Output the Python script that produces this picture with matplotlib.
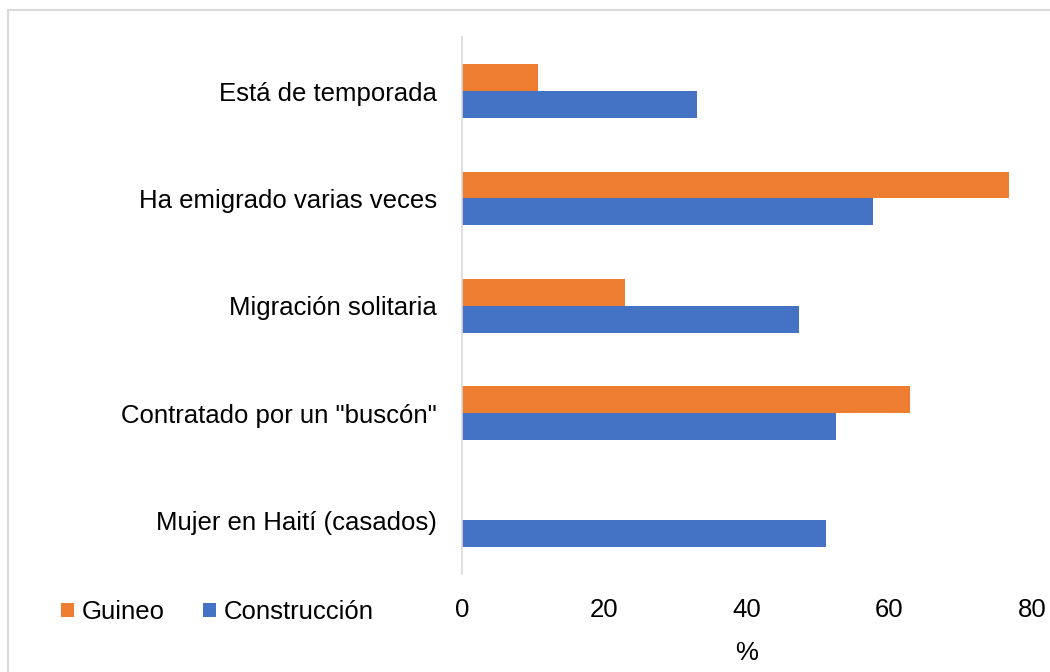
import numpy as np
import matplotlib.pyplot as plt
from matplotlib.patches import Rectangle

categorias = ["Está de temporada", "Ha emigrado varias veces", "Migración solitaria",
              'Contratado por un "buscón"', "Mujer en Haití (casados)"]
guineo = [10.7, 76.8, 22.9, 62.9, 0]
construccion = [33.0, 57.7, 47.3, 52.5, 51.1]
xticks = [0, 20, 40, 60, 80]

plt.rcParams['font.family'] = ['Liberation Sans', 'DejaVu Sans']
fs = 18.5

fig = plt.figure(figsize=(10.5, 6.72), dpi=100)
ax = fig.add_axes([462/1050, 1-574/672, (1032-462)/1050, (574-37.5)/672])

# marco del grafico
fig.patches.append(Rectangle((8/1050, -0.1), 1.2, 1 - 10/672 + 0.1, transform=fig.transFigure,
                             fill=False, edgecolor="#d9d9d9", linewidth=1.5))

y = np.arange(len(categorias))
h = 0.25
ax.barh(y - h/2, guineo, height=h, color="#ED7D31", label="Guineo")
ax.barh(y + h/2, construccion, height=h, color="#4472C4", label="Construcción")

ax.set_ylim(len(categorias) - 0.5, -0.5)
ax.set_xlim(0, 80)
ax.set_yticks(y)
ax.set_yticklabels(categorias, fontsize=fs)
ax.set_xticks(xticks)
ax.set_xticklabels([str(v) for v in xticks], fontsize=fs)
ax.tick_params(axis="both", length=0)
ax.tick_params(axis="y", pad=18)
ax.tick_params(axis="x", pad=17)
ax.set_xlabel("%", fontsize=fs, labelpad=14)

for s in ["top", "right", "bottom"]:
    ax.spines[s].set_visible(False)
ax.spines["left"].set_color("#d9d9d9")
ax.spines["left"].set_linewidth(1.2)

ax.legend(loc="center left", bbox_to_anchor=(61/1050, 1-612/672), bbox_transform=fig.transFigure,
          ncol=2, frameon=False, fontsize=fs, handlelength=0.5, handleheight=0.5,
          handletextpad=0.3, columnspacing=1.5, borderpad=0, borderaxespad=0)

fig.savefig("out.png", dpi=100)
